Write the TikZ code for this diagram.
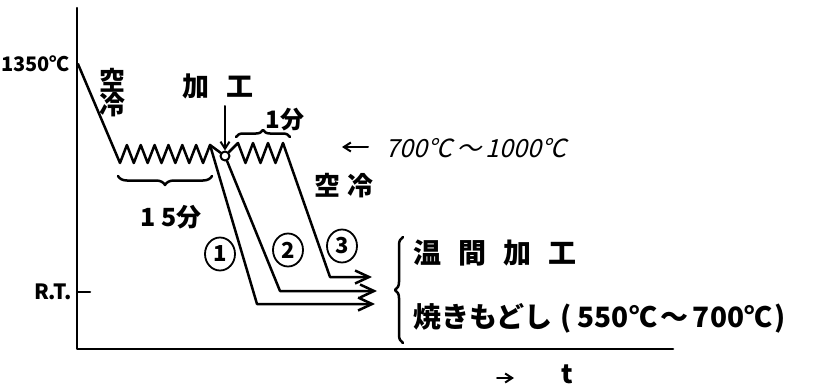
\documentclass[tikz,border=0pt]{standalone}
\usepackage{fontspec}
\newfontfamily\jp{Noto Sans CJK JP}
\newfontfamily\jpsl[FakeSlant=0.25]{Noto Sans CJK JP}
\usetikzlibrary{arrows.meta,decorations.pathreplacing,shapes.geometric}
\begin{document}
\begin{tikzpicture}[x=1pt,y=-1pt,line cap=round,line join=round,
  ink/.style={line width=2.5pt},
  thin ink/.style={line width=2pt},
  lab/.style={inner sep=0pt,font=\jp\bfseries\fontsize{#1}{#1}\selectfont},
  endarrow/.style={ink,-{Straight Barb[length=14pt,width=13pt,line width=2.5pt]}},
  smallarrow/.style={thin ink,-{Straight Barb[length=7pt,width=9pt,line width=2pt]}},
  num/.style={ellipse,draw,line width=1.8pt,minimum width=30pt,minimum height=33pt,inner sep=0pt,font=\jp\bfseries\fontsize{22}{22}\selectfont},
  bracedec/.style={ink,decorate,decoration={brace,amplitude=#1}}]
\useasboundingbox (0,0) rectangle (819,388);

% axes
\coordinate (ytop) at (77,8);
\coordinate (O) at (77,349);
\coordinate (xend) at (673,349);
\draw[ink] (ytop) -- (O) -- (xend);

% labels on the axis
\node[lab=20,anchor=east] (t1350) at (70,64) {1350℃};
\node[lab=21] (rt) at (53,292) {R.T.};
\coordinate (rttick) at (77,292);
\coordinate (rttickend) at (90,292);
\draw[ink] (rttick) -- (rttickend);

% working point
\node[circle,draw,line width=2pt,fill=white,minimum size=9pt,inner sep=0pt] (c) at (225,156) {};

% 1350 -> zigzag 1 -> line 1
\coordinate (top) at (78,64);
\coordinate (p1) at (210,145);
\coordinate (k1) at (257,304);
\coordinate (e1) at (375,304);
\draw[ink] (top) -- (120,163)
  \foreach \k in {0,...,5} { -- ({126.9+13.85*\k},145) -- ({133.8+13.85*\k},163) }
  -- (p1) -- (c);
\draw[endarrow] (p1) -- (k1) -- (e1);

% line 2
\coordinate (k2) at (280,291);
\coordinate (e2) at (377,291);
\draw[endarrow] (c) -- (k2) -- (e2);

% zigzag 2 -> line 3
\coordinate (p3) at (283,143);
\coordinate (k3) at (330,277);
\coordinate (e3) at (372,277);
\draw[ink] (c) -- (238,143) -- (245.5,163) -- (253,143) -- (260.5,163) -- (268,143) -- (275.5,163) -- (p3);
\draw[endarrow] (p3) -- (k3) -- (e3);

% braces
\coordinate (b1a) at (118,176);
\coordinate (b1b) at (212,176);
\draw[bracedec=9pt,decoration={mirror}] (b1a) -- (b1b);
\node[lab=25] (m15) at (171,217) {1\hspace{5pt}5分};

\coordinate (b2a) at (236,137);
\coordinate (b2b) at (290,137);
\draw[bracedec=7pt] (b2a) -- (b2b);
\node[lab=24] (m1) at (285,120) {1分};

% labels
\node[lab=26] (kurei1a) at (112,80) {空};
\node[lab=26] (kurei1b) at (112,105) {冷};
\node[lab=27] (kako) at (218,86) {加\hspace{17pt}工};
\coordinate (ka) at (225,106);
\draw[smallarrow] (ka) -- (c);

\node[lab=26] (kurei2) at (344,186) {空\hspace{8pt}冷};

\node[inner sep=0pt,font=\jpsl\fontsize{25}{25}\selectfont] (temp) at (476,148) {700℃\,〜\,1000℃};
\coordinate (ta1) at (368,147);
\coordinate (ta2) at (342,147);
\draw[smallarrow] (ta1) -- (ta2);

% circled numbers
\node[num] (n1) at (220,254) {1};
\node[num] (n2) at (288,250) {2};
\node[num] (n3) at (342,246) {3};

% right brace and texts
\coordinate (lb1) at (403,343);
\coordinate (lb2) at (403,237);
\draw[bracedec=8pt] (lb1) -- (lb2);
\node[lab=28,anchor=west] (onkan) at (413,253) {温\hspace{17pt}間\hspace{17pt}加\hspace{17pt}工};
\node[lab=28,anchor=west] (yaki) at (413,318) {焼きもどし\hspace{8pt}(\hspace{6pt}550℃\hspace{4pt}～\hspace{4pt}700℃\hspace{2pt})};

% time axis label
\coordinate (ba1) at (497,378);
\coordinate (ba2) at (514,378);
\draw[smallarrow] (ba1) -- (ba2);
\node[lab=26] (tt) at (567,374) {t};
\end{tikzpicture}
\end{document}
